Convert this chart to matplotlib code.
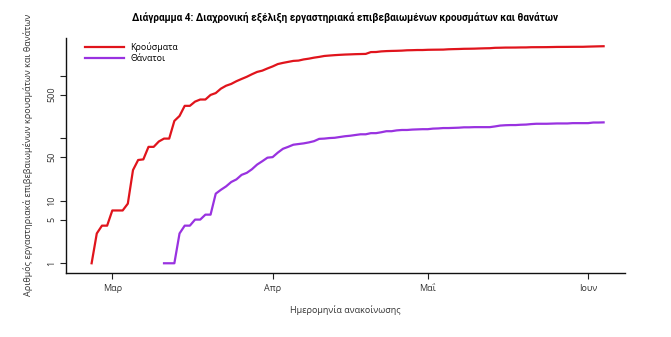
import matplotlib
matplotlib.use("Agg")
import matplotlib.pyplot as plt
import pandas as pd

# Cumulative confirmed cases per announcement date, from 26 Feb 2020
cases_start = "2020-02-26"
cases = [1, 3, 4, 4,
         7, 7, 7, 9, 31, 45, 46, 73, 73, 89, 99, 99, 190, 228, 331, 331,
         387, 418, 418, 495, 530, 624, 695, 743, 821, 892, 966, 1061, 1156,
         1212, 1314,
         1415, 1544, 1613, 1673, 1735, 1755, 1832, 1884, 1955, 2011, 2081,
         2114, 2145, 2170, 2192, 2207, 2224, 2235, 2245, 2401, 2408, 2463,
         2490, 2506, 2517, 2534, 2566, 2576, 2591, 2591,
         2612, 2620, 2626, 2632, 2663, 2678, 2691, 2710, 2716, 2726, 2744,
         2760, 2770, 2810, 2819, 2834, 2836, 2840, 2850, 2853, 2873, 2876,
         2878, 2882, 2892, 2903, 2906, 2909, 2915, 2917, 2918,
         2937, 2952, 2967, 2980]

# Cumulative deaths, from 11 Mar 2020
deaths_start = "2020-03-11"
deaths = [1, 1, 1, 3, 4, 4, 5, 5, 6, 6, 13, 15, 17, 20, 22, 26, 28, 32, 38,
          43, 49,
          50, 59, 68, 73, 79, 81, 83, 86, 90, 98, 99, 101, 102, 105, 108, 110,
          113, 116, 116, 121, 121, 125, 130, 130, 134, 136, 136, 138, 139, 140,
          140, 143, 144, 146, 146, 147, 148, 150, 150, 151, 151, 151, 151, 155,
          160, 162, 163, 163, 165, 166, 169, 171, 171, 171, 172, 173, 173, 173,
          175, 175, 175,
          175, 179, 179, 180]

month_ticks = ["2020-03-01", "2020-04-01", "2020-05-01", "2020-06-01"]
month_labels = ["Μαρ", "Απρ", "Μαΐ", "Ιουν"]
y_ticks = [1, 5, 10, 50, 100, 500, 1000]
y_labels = ["1", "5", "10", "50", "", "500", ""]

cases_dates = pd.date_range(cases_start, periods=len(cases), freq="D")
deaths_dates = pd.date_range(deaths_start, periods=len(deaths), freq="D")

plt.rcParams["font.family"] = ["Open Sans", "DejaVu Sans"]

fig = plt.figure(figsize=(6.71, 3.37), dpi=100)
ax = fig.add_axes([0.098, 0.191, 0.834, 0.697])

ax.plot(cases_dates, cases, color="#e0141c", lw=1.6, label="Κρούσματα")
ax.plot(deaths_dates, deaths, color="#9932e0", lw=1.6, label="Θάνατοι")

ax.set_yscale("log")
ax.set_ylim(10 ** -0.15, 10 ** 3.61)
ax.set_xlim(pd.Timestamp("2020-02-21"), pd.Timestamp("2020-06-08 05:00"))

ax.set_yticks(y_ticks)
ax.set_yticklabels(y_labels, rotation=90, va="center")
ax.yaxis.set_minor_locator(matplotlib.ticker.NullLocator())
ax.set_xticks(pd.to_datetime(month_ticks))
ax.set_xticklabels(month_labels)

ax.tick_params(axis="both", labelsize=6.5, length=4, width=0.8,
               color="#222222", labelcolor="#333333")
ax.tick_params(axis="y", pad=3)
ax.tick_params(axis="x", pad=4)

for side in ["top", "right"]:
    ax.spines[side].set_visible(False)
for side in ["left", "bottom"]:
    ax.spines[side].set_linewidth(1.0)
    ax.spines[side].set_color("#111111")

ax.set_xlabel("Ημερομηνία ανακοίνωσης", fontsize=6.5, color="#333333",
              labelpad=9)
ax.set_ylabel("Αριθμός εργαστηριακά επιβεβαιωμένων κρουσμάτων και θανάτων",
              fontsize=6.5, color="#333333", labelpad=10)

fig.suptitle("Διάγραμμα 4: Διαχρονική εξέλιξη εργαστηριακά επιβεβαιωμένων "
             "κρουσμάτων και θανάτων",
             x=0.514, y=0.965, fontsize=7.2, fontweight="bold",
             family=["Roboto", "DejaVu Sans"])

ax.legend(loc="upper left", bbox_to_anchor=(85 / 671, 1 - 42 / 337),
          bbox_transform=fig.transFigure, frameon=False, fontsize=6.4,
          handlelength=4.4, handletextpad=0.7, labelspacing=0.2,
          borderpad=0, borderaxespad=0)

fig.savefig("out.png", dpi=100)
